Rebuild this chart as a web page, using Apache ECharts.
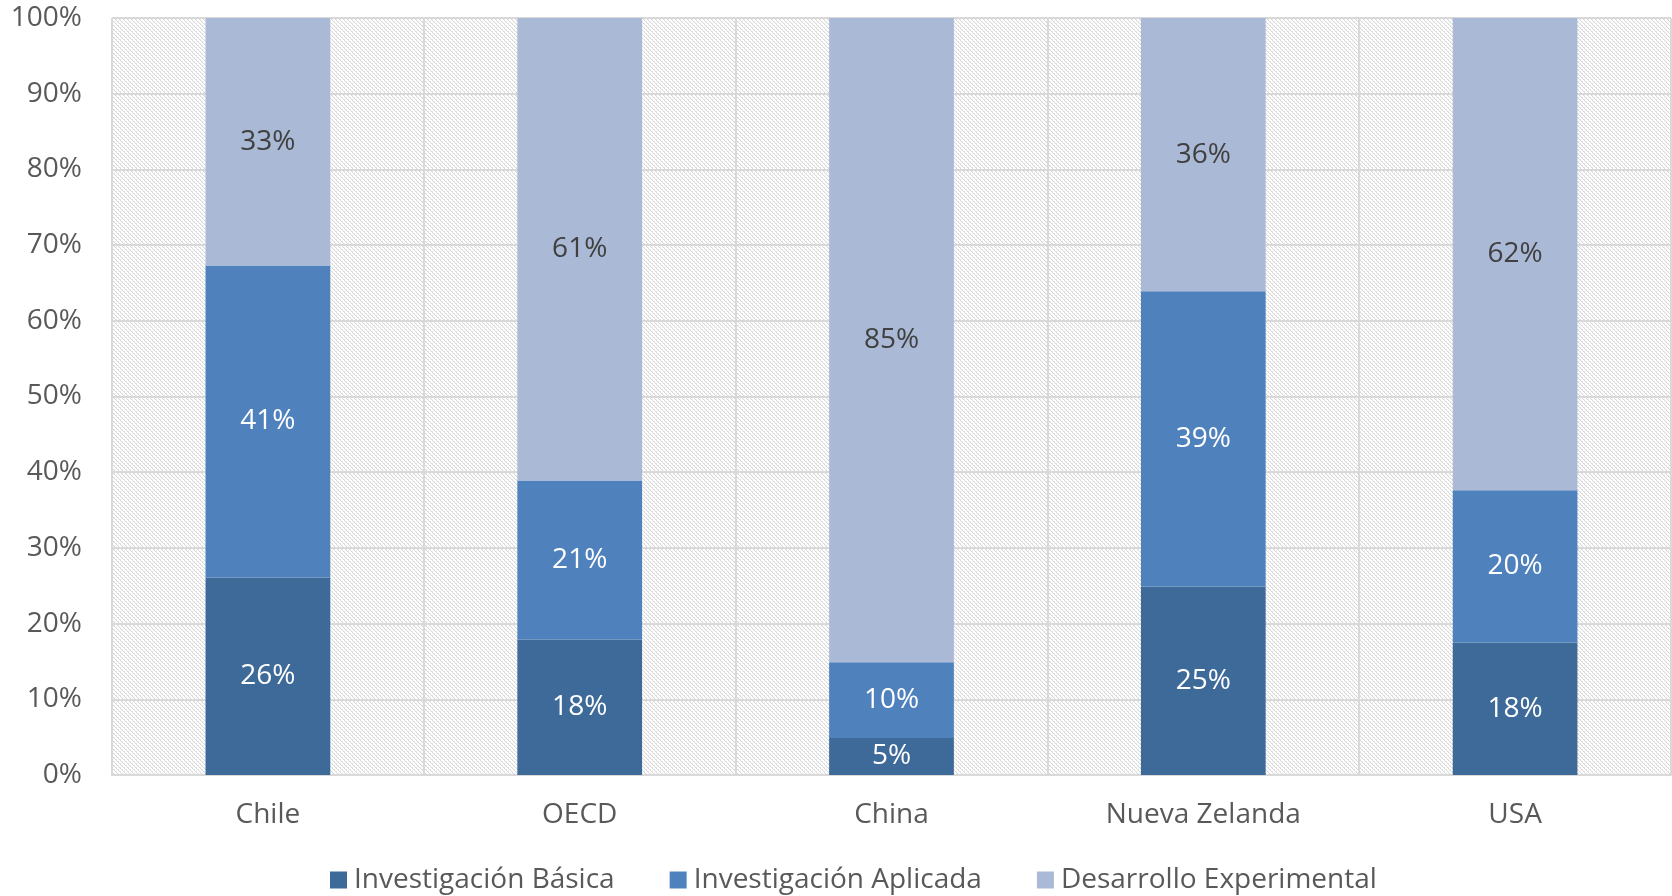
<!DOCTYPE html>
<html>
<head>
<meta charset="utf-8">
<script src="https://cdn.jsdelivr.net/npm/echarts@6/dist/echarts.min.js"></script>
<style>html,body{margin:0;padding:0;background:#fff}#c{width:1672px;height:896px}</style>
</head>
<body>
<div id="c"></div>
<script>
const categories = ['Chile', 'OECD', 'China', 'Nueva Zelanda', 'USA'];
const seriesNames = ['Investigación Básica', 'Investigación Aplicada', 'Desarrollo Experimental'];
const basica = [26.1, 17.9, 4.9, 24.9, 17.5];
const aplicada = [41.2, 21.0, 10.0, 39.0, 20.1];
const desarrollo = [32.7, 61.1, 85.1, 36.1, 62.4];
const yTicks = [0, 10, 20, 30, 40, 50, 60, 70, 80, 90, 100];
const colors = ['#3E6A9A', '#4F81BD', '#AAB9D6'];

// hatch pattern
const tile = document.createElement('canvas');
tile.width = 8; tile.height = 8;
const tctx = tile.getContext('2d');
tctx.fillStyle = '#ffffff';
tctx.fillRect(0, 0, 8, 8);
for (let y = 0; y < 8; y++) {
  for (let x = 0; x < 8; x++) {
    const d = ((x - y) % 4 + 4) % 4;
    if (d === 0) { tctx.fillStyle = '#d6d6d6'; tctx.fillRect(x, y, 1, 1); }
    else if (d === 1 && (x % 2 === 0)) { tctx.fillStyle = '#e8e8e8'; tctx.fillRect(x, y, 1, 1); }
  }
}

const font = "'Open Sans', 'Noto Sans', sans-serif";
const fs = 28;
const chart = echarts.init(document.getElementById('c'));
const mk = (name, data, idx, labelColor) => ({
  name: name,
  type: 'bar',
  stack: 'total',
  data: data,
  barWidth: '40%',
  itemStyle: { color: colors[idx] },
  label: {
    show: true,
    position: 'inside',
    color: labelColor,
    fontFamily: font,
    fontSize: fs,
    formatter: p => Math.round(p.value) + '%'
  }
});
chart.setOption({
  animation: false,
  textStyle: { fontFamily: font },
  grid: {
    left: 112, right: 1, top: 18, bottom: 121,
    show: true,
    borderWidth: 0,
    backgroundColor: { image: tile, repeat: 'repeat' }
  },
  legend: {
    data: seriesNames,
    left: 325,
    top: 861,
    itemWidth: 17,
    itemHeight: 17,
    itemGap: 55,
    icon: 'rect',
    textStyle: { fontSize: fs, color: '#595959', fontFamily: font, padding: [0, 0, 0, 2] }
  },
  xAxis: {
    type: 'category',
    data: categories,
    axisLine: { show: true, lineStyle: { color: '#d9d9d9', width: 2 } },
    axisTick: { show: false },
    splitLine: { show: true, lineStyle: { color: '#d9d9d9', width: 2 } },
    axisLabel: { color: '#595959', fontSize: fs, margin: 26, fontFamily: font }
  },
  yAxis: {
    type: 'value',
    min: 0, max: 100, interval: 10,
    axisLine: { show: false },
    axisTick: { show: false },
    splitLine: { show: true, lineStyle: { color: '#d9d9d9', width: 2 } },
    axisLabel: {
      color: '#595959', fontSize: fs, margin: 30, fontFamily: font,
      formatter: v => yTicks.includes(v) ? v + '%' : ''
    }
  },
  series: [
    mk(seriesNames[0], basica, 0, '#ffffff'),
    mk(seriesNames[1], aplicada, 1, '#ffffff'),
    mk(seriesNames[2], desarrollo, 2, '#404040')
  ]
});
</script>
</body>
</html>
